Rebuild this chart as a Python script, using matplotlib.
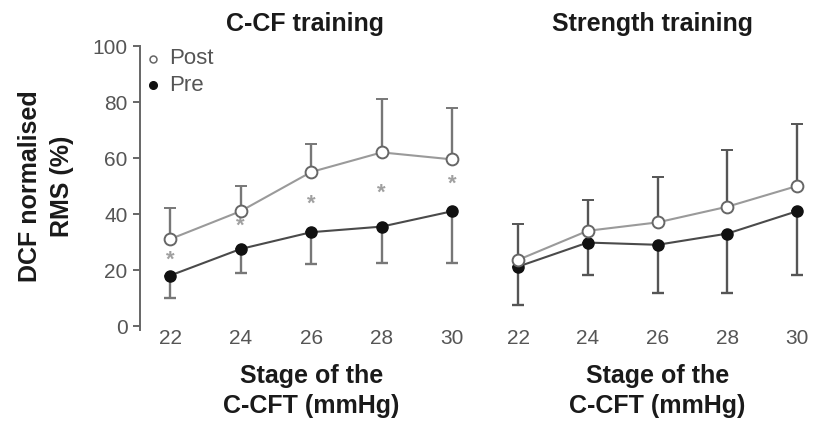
import numpy as np
import matplotlib.pyplot as plt

plt.rcParams['font.family'] = ['Liberation Sans', 'DejaVu Sans']

stages = [22, 24, 26, 28, 30]

# C-CF training panel
ccf_post = [31, 41, 55, 62, 59.5]
ccf_post_err = [11, 9, 10, 19, 18.5]
ccf_pre = [18, 27.5, 33.5, 35.5, 41]
ccf_pre_err = [8, 8.5, 11.5, 13, 18.5]
ccf_star = [25, 37, 45, 49, 52]

# Strength training panel
str_post = [23.6, 34, 37, 42.6, 50]
str_post_err = [12.8, 11, 16.3, 20.3, 22]
str_pre = [21.2, 29.8, 29, 33, 41]
str_pre_err = [13.7, 11.6, 17.3, 21.3, 22.8]

yticks = [0, 20, 40, 60, 80, 100]

fig = plt.figure(figsize=(8.24, 4.21), dpi=100)
W, H = 824, 421
ax1 = fig.add_axes([140 / W, 1 - 326 / H, (470 - 140) / W, 280 / H])
ax2 = fig.add_axes([488 / W, 1 - 326 / H, (818 - 488) / W, 280 / H])

post_col = '#9a9a9a'
pre_col = '#4a4a4a'
tick_col = '#555555'


def draw_panel(ax, post, post_err, pre, pre_err, xl, ecol):
    zeros = [0] * len(stages)
    ax.errorbar(stages, pre, yerr=[pre_err, zeros], color=pre_col, ecolor=ecol,
                elinewidth=1.7, capsize=4.5, capthick=1.7, lw=1.5, marker='o',
                ms=8, mfc='#111111', mec='#111111', zorder=3)
    ax.errorbar(stages, post, yerr=[zeros, post_err], color=post_col, ecolor=ecol,
                elinewidth=1.7, capsize=4.5, capthick=1.7, lw=1.5, marker='o',
                ms=8.5, mfc='white', mec='#666666', mew=1.4, zorder=4)
    ax.set_xlim(*xl)
    ax.set_ylim(0, 100)
    ax.set_xticks(stages)
    ax.set_xticklabels([str(s) for s in stages], fontsize=15, color=tick_col)
    ax.tick_params(axis='x', length=0, pad=2)
    for s in ['top', 'right', 'bottom']:
        ax.spines[s].set_visible(False)
    frac = (26 - xl[0]) / (xl[1] - xl[0])
    ax.set_xlabel('Stage of the\nC-CFT (mmHg)', fontsize=18, fontweight='bold',
                  labelpad=12, linespacing=1.3, x=frac, color='#1a1a1a')


draw_panel(ax1, ccf_post, ccf_post_err, ccf_pre, ccf_pre_err, (21.15, 30.5), '#777777')
draw_panel(ax2, str_post, str_post_err, str_pre, str_pre_err, (21.14, 30.6), '#555555')

ax1.spines['left'].set_color('#666666')
ax1.spines['left'].set_linewidth(1.4)
ax1.spines['left'].set_bounds(-1.5, 100)
ax1.set_yticks(yticks)
ax1.set_yticklabels([str(t) for t in yticks], fontsize=15, color=tick_col)
ax1.tick_params(axis='y', length=5, color='#666666', width=1.4, pad=4)
ax1.set_ylabel('DCF normalised\nRMS (%)', fontsize=18, fontweight='bold',
               labelpad=13, linespacing=1.45, color='#1a1a1a')

ax2.spines['left'].set_visible(False)
ax2.set_yticks([])

for x, y in zip(stages, ccf_star):
    ax1.text(x, y - 1.5, '*', fontsize=16, color='#a0a0a0', ha='center', va='center',
             fontweight='bold')

ax1.set_title('C-CF training', fontsize=18, fontweight='bold', pad=11, color='#1a1a1a')
ax2.set_title('Strength training', fontsize=18, fontweight='bold', pad=11, color='#1a1a1a')

# legend
ax1.plot([21.52], [95.4], 'o', ms=5, mfc='white', mec='#666666', mew=1.1, clip_on=False)
ax1.text(21.98, 95.4, 'Post', fontsize=16, color=tick_col, va='center')
ax1.plot([21.52], [86.0], 'o', ms=5.5, mfc='#111111', mec='#111111', clip_on=False)
ax1.text(21.98, 86.0, 'Pre', fontsize=16, color=tick_col, va='center')

fig.savefig('out.png', dpi=100)
